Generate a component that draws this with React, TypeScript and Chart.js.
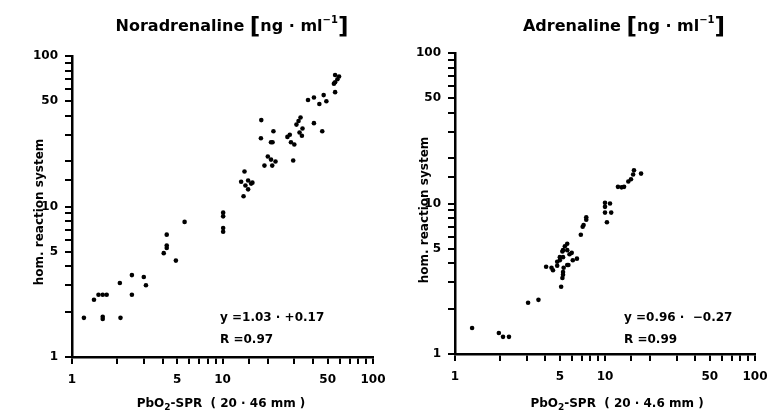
import React, { useEffect, useRef } from "react";
import { Chart, registerables } from "chart.js";
Chart.register(...registerables);

const FONT = '"DejaVu Sans", "Liberation Sans", sans-serif';
const tickLabels = [1, 5, 10, 50, 100];

// Noradrenaline: PbO2-SPR (x) vs hom. reaction system (y)
const noraX = [1.2, 1.4, 1.5, 1.6, 1.7, 1.6, 1.6, 2.1, 2.08, 2.5, 2.5, 3.0, 3.1, 4.07, 4.26, 4.26, 4.26, 4.9, 5.6,
  10.1, 10.1, 10.1, 10.1, 13.8, 14.2, 14.8, 13.3, 14.8, 15.5, 15.8, 14.0,
  18.1, 18.0, 21.8, 21.0, 21.5, 20.0, 21.0, 22.5, 19.0, 21.4, 27.0, 28.0, 28.5, 30.0, 29.5,
  31.0, 32.0, 33.0, 34.0, 32.5, 33.7, 40.5, 46.0, 37.0, 40.5, 47.0, 49.0, 44.0,
  56.0, 56.0, 59.5, 58.0, 56.0, 55.0];
const noraY = [1.82, 2.4, 2.59, 2.59, 2.59, 1.85, 1.79, 1.82, 3.1, 3.5, 2.59, 3.4, 3.0, 4.9, 5.5, 5.3, 6.5, 4.37, 7.9,
  9.1, 8.6, 7.2, 6.8, 11.7, 13.8, 13.0, 14.6, 14.9, 14.2, 14.4, 17.1,
  37.5, 28.4, 31.6, 26.7, 26.7, 21.5, 20.5, 19.9, 18.7, 18.7, 29.0, 30.0, 26.7, 25.8, 20.2,
  35.0, 37.0, 39.0, 33.0, 31.0, 29.5, 35.8, 31.6, 51.0, 53.0, 55.0, 50.0, 48.0,
  57.5, 74.7, 73.0, 70.0, 67.0, 65.5];

// Adrenaline
const adrenX = [1.3, 1.96, 2.09, 2.29, 3.07, 3.6, 4.05, 4.4, 4.5, 4.8, 4.8, 5.0, 5.0, 5.25, 5.2, 5.25, 5.6, 5.6, 5.4,
  6.0, 5.8, 5.6, 5.7, 5.3, 5.25, 5.25, 5.2, 5.1, 6.5, 6.1, 6.9, 7.1, 7.2, 7.5, 7.5,
  10.0, 10.0, 10.8, 11.0, 10.0, 10.3, 12.2, 12.9, 13.4, 14.3, 14.9, 15.4, 15.6, 17.4];
const adrenY = [1.49, 1.38, 1.3, 1.3, 2.19, 2.29, 3.8, 3.74, 3.6, 4.1, 3.86, 4.4, 4.2, 4.4, 4.8, 4.9, 4.9, 5.4, 5.2,
  4.7, 4.6, 3.9, 3.9, 3.74, 3.5, 3.36, 3.2, 2.8, 4.3, 4.2, 6.2, 7.0, 7.2, 7.8, 8.1,
  10.1, 9.5, 10.0, 8.7, 8.7, 7.5, 12.9, 12.8, 12.9, 14.0, 14.5, 15.6, 16.6, 15.8];

type Part = { t: string; size: number; dy?: number; light?: boolean };

function drawParts(ctx: CanvasRenderingContext2D, parts: Part[], x: number, y: number, align: "center" | "left") {
  ctx.textBaseline = "alphabetic";
  ctx.textAlign = "left";
  let total = 0;
  const fontOf = (p: Part) => `${p.light ? "" : "bold "}${p.size}px ${FONT}`;
  const widths = parts.map((p) => {
    ctx.font = fontOf(p);
    const w = ctx.measureText(p.t).width;
    total += w;
    return w;
  });
  let cx = align === "center" ? x - total / 2 : x;
  parts.forEach((p, i) => {
    ctx.font = fontOf(p);
    ctx.fillText(p.t, cx, y + (p.dy || 0));
    cx += widths[i];
  });
}

type Panel = {
  xs: number[];
  ys: number[];
  width: number;
  yAxisW: number;
  topPad: number;
  rightPad: number;
  xAxisH: number;
  title: Part[];
  titleX: number;
  titleY: number;
  yTitleX: number;
  yTitleY: number;
  xTitle: Part[];
  xTitleX: number;
  xTitleY: number;
  eq: string;
  r: string;
  eqX: number;
  eqY: number;
};

function buildChart(canvas: HTMLCanvasElement, p: Panel) {
  const textPlugin = {
    id: "texts",
    afterDraw(chart: any) {
      const ctx: CanvasRenderingContext2D = chart.ctx;
      ctx.save();
      ctx.fillStyle = "#000";
      drawParts(ctx, p.title, p.titleX, p.titleY, "center");
      drawParts(ctx, p.xTitle, p.xTitleX, p.xTitleY, "center");
      ctx.font = `bold 12px ${FONT}`;
      ctx.textBaseline = "middle";
      ctx.textAlign = "left";
      ctx.fillText(p.eq, p.eqX, p.eqY);
      ctx.fillText(p.r, p.eqX, p.eqY + 22);
      ctx.translate(p.yTitleX, p.yTitleY);
      ctx.rotate(-Math.PI / 2);
      ctx.textAlign = "center";
      ctx.textBaseline = "middle";
      ctx.font = `bold 12px ${FONT}`;
      ctx.fillText("hom. reaction system", 0, 0);
      ctx.restore();
    },
  };
  const axisCommon = (fit: (s: any) => void, pad: number) => ({
    type: "logarithmic" as const,
    min: 1,
    max: 100,
    border: { color: "#000", width: 2.5 },
    grid: { drawOnChartArea: false, drawTicks: true, tickLength: 7, color: "#000", lineWidth: 2 },
    ticks: {
      autoSkip: false,
      maxRotation: 0,
      color: "#000",
      padding: pad,
      font: { family: FONT, size: 12, weight: "bold" as const },
      callback: (v: any) => (tickLabels.some((t) => Math.abs(t - Number(v)) < 1e-6) ? String(v) : ""),
    },
    afterFit: (s: any) => {
      fit(s);
      s.paddingLeft = 0;
      s.paddingRight = 0;
      s.paddingTop = 0;
      s.paddingBottom = 0;
    },
  });
  return new Chart(canvas, {
    type: "scatter",
    data: {
      datasets: [
        {
          data: p.xs.map((x, i) => ({ x, y: p.ys[i] })),
          pointRadius: 2.3,
          pointBackgroundColor: "#000",
          pointBorderWidth: 0,
        },
      ],
    },
    options: {
      responsive: false,
      animation: false,
      events: [],
      layout: { padding: { top: p.topPad, right: p.rightPad, left: 0, bottom: 0 } },
      plugins: { legend: { display: false }, tooltip: { enabled: false }, title: { display: false } },
      scales: {
        x: { ...axisCommon((s: any) => { s.height = p.xAxisH; }, 9), position: "bottom" },
        y: { ...axisCommon((s: any) => { s.width = p.yAxisW; }, 7), position: "left" },
      },
    },
    plugins: [textPlugin],
  } as any);
}

const sup = (t: string): Part => ({ t, size: 10, dy: -8 });
const brk = (t: string): Part => ({ t, size: 23, dy: 3 });

const leftPanel: Panel = {
  xs: noraX,
  ys: noraY,
  width: 390,
  yAxisW: 72,
  topPad: 56,
  rightPad: 17,
  xAxisH: 56,
  title: [
    { t: "Noradrenaline ", size: 16 },
    brk("["),
    { t: "ng · ml", size: 16 },
    sup("−1"),
    brk("]"),
  ],
  titleX: 232,
  titleY: 31,
  yTitleX: 40,
  yTitleY: 212,
  xTitle: [
    { t: "PbO", size: 12 },
    { t: "2", size: 9, dy: 3 },
    { t: "-SPR  ( 20 · 46 mm )", size: 12 },
  ],
  xTitleX: 221,
  xTitleY: 407,
  eq: "y =1.03 · +0.17",
  r: "R =0.97",
  eqX: 220,
  eqY: 318,
};

const rightPanel: Panel = {
  xs: adrenX,
  ys: adrenY,
  width: 381,
  yAxisW: 65,
  topPad: 53,
  rightPad: 16,
  xAxisH: 59,
  title: [
    { t: "Adrenaline ", size: 16 },
    brk("["),
    { t: "ng · ml", size: 16 },
    sup("−1"),
    brk("]"),
  ],
  titleX: 234,
  titleY: 31,
  yTitleX: 35,
  yTitleY: 210,
  xTitle: [
    { t: "PbO", size: 12 },
    { t: "2", size: 9, dy: 3 },
    { t: "-SPR  ( 20 · 4.6 mm )", size: 12 },
  ],
  xTitleX: 227,
  xTitleY: 407,
  eq: "y =0.96 ·  −0.27",
  r: "R =0.99",
  eqX: 234,
  eqY: 318,
};

function PanelChart({ panel, left }: { panel: Panel; left: number }) {
  const ref = useRef<HTMLCanvasElement>(null);
  useEffect(() => {
    if (!ref.current) return;
    const c = buildChart(ref.current, panel);
    return () => c.destroy();
  }, [panel]);
  return (
    <canvas
      ref={ref}
      width={panel.width}
      height={413}
      style={{ position: "absolute", left, top: 0, width: panel.width, height: 413 }}
    />
  );
}

export default function App() {
  return (
    <div style={{ position: "absolute", left: 0, top: 0, width: 771, height: 413, background: "#fff", overflow: "hidden" }}>
      <PanelChart panel={leftPanel} left={0} />
      <PanelChart panel={rightPanel} left={390} />
    </div>
  );
}
